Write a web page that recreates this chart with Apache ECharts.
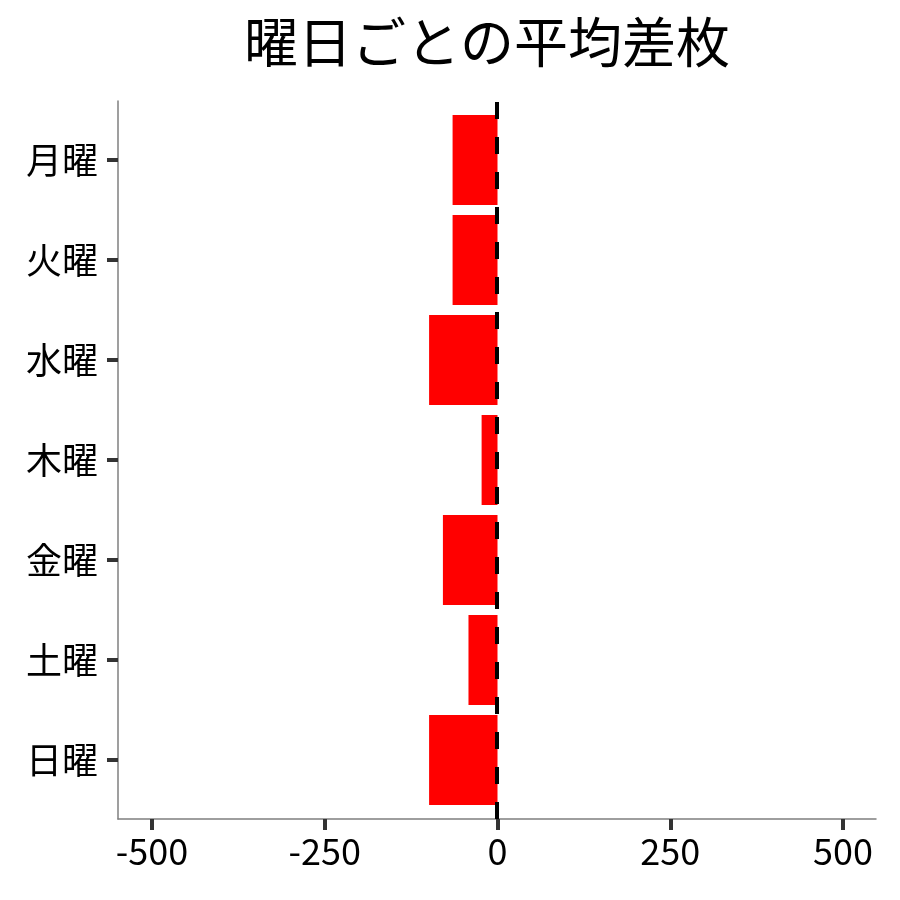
<!DOCTYPE html>
<html>
<head>
<meta charset="utf-8">
<script src="https://cdn.jsdelivr.net/npm/echarts@6/dist/echarts.min.js"></script>
<style>
  html, body { margin: 0; padding: 0; background: #fff; }
  #chart { width: 900px; height: 900px; }
</style>
</head>
<body>
<div id="chart"></div>
<script>
// 曜日ごとの平均差枚
var days = ['月曜', '火曜', '水曜', '木曜', '金曜', '土曜', '日曜'];
var avgDiff = [-65, -65, -99, -23, -79, -42, -99];
var xTickMin = -500, xTickMax = 500, xTickStep = 250;
var xPadMin = -550, xPadMax = 550;   // 余白込みの軸範囲

var font = '"Noto Sans CJK JP", "Noto Sans", sans-serif';
var e = echarts.init(document.getElementById('chart'));

option = {
    animation: false,
    backgroundColor: '#fff',
    title: {
        text: '曜日ごとの平均差枚',
        left: 239,
        top: 10,
        textStyle: {
            fontFamily: font,
            fontSize: 54,
            fontWeight: 'normal',
            color: '#000'
        }
    },
    grid: [
        // 0: 棒・目盛り
        { left: 152, right: 57, top: 110, bottom: 90 },
        // 1: 外枠の軸線 (余白込み)
        { left: 118, right: 24, top: 101, bottom: 81 }
    ],
    xAxis: [
        {
            gridIndex: 0,
            type: 'value',
            min: xTickMin,
            max: xTickMax,
            interval: xTickStep,
            offset: 9,
            splitLine: { show: false },
            axisLine: { show: false },
            axisTick: {
                show: true,
                length: 11,
                lineStyle: { color: '#333', width: 4 }
            },
            axisLabel: {
                margin: 14,
                fontFamily: font,
                fontSize: 36,
                color: '#000'
            }
        },
        {
            gridIndex: 1,
            type: 'value',
            min: xPadMin,
            max: xPadMax,
            splitLine: { show: false },
            axisLine: { show: true, onZero: false, lineStyle: { color: '#7f7f7f', width: 1.5 } },
            axisTick: { show: false },
            axisLabel: { show: false }
        }
    ],
    yAxis: [
        {
            gridIndex: 0,
            type: 'category',
            inverse: true,
            data: days,
            offset: 34,
            axisLine: { show: false, onZero: false },
            axisTick: {
                show: true,
                alignWithLabel: true,
                length: 11,
                lineStyle: { color: '#333', width: 4 }
            },
            axisLabel: {
                margin: 20,
                fontFamily: font,
                fontSize: 36,
                color: '#000'
            }
        },
        {
            gridIndex: 1,
            type: 'value',
            min: 0,
            max: 1,
            splitLine: { show: false },
            axisLine: { show: true, onZero: false, lineStyle: { color: '#7f7f7f', width: 1.5 } },
            axisTick: { show: false },
            axisLabel: { show: false }
        }
    ],
    series: [
        {
            name: '平均差枚',
            type: 'bar',
            xAxisIndex: 0,
            yAxisIndex: 0,
            data: avgDiff,
            barCategoryGap: '10%',
            itemStyle: { color: '#ff0000' }
        },
        {
            name: 'ゼロ線',
            type: 'line',
            xAxisIndex: 1,
            yAxisIndex: 1,
            data: [],
            z: 5,
            markLine: {
                silent: true,
                symbol: ['none', 'none'],
                label: { show: false },
                lineStyle: {
                    color: '#000',
                    width: 4,
                    type: [17, 18]
                },
                data: [{ xAxis: 0 }]
            }
        }
    ]
};
e.setOption(option);
</script>
</body>
</html>
